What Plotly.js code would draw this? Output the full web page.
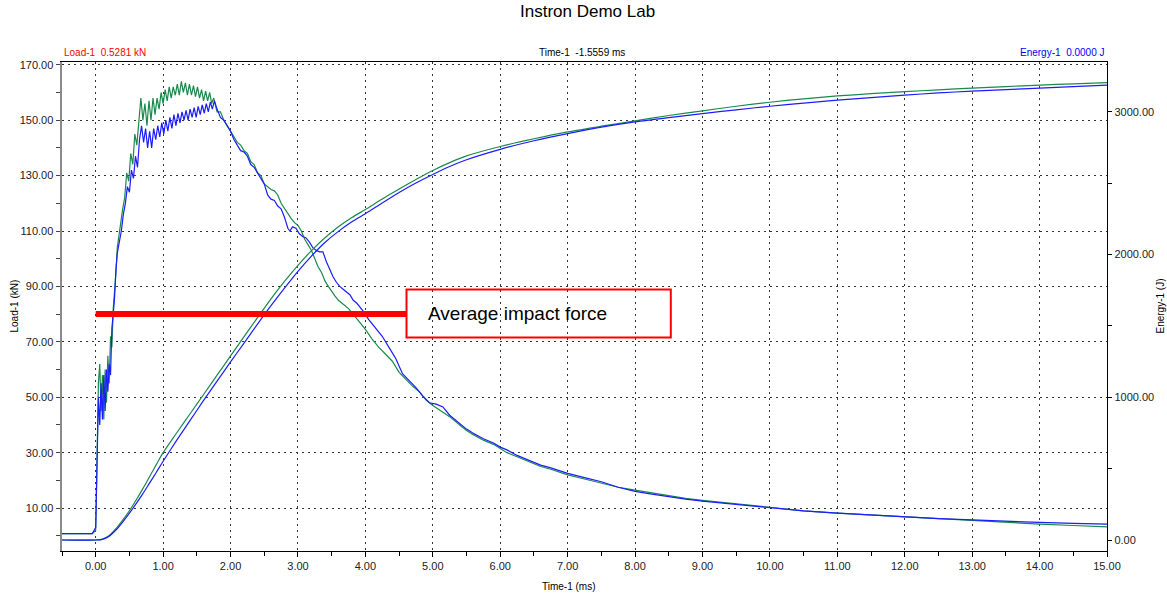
<!DOCTYPE html>
<html><head><meta charset="utf-8">
<script src="https://cdn.plot.ly/plotly-3.0.1.min.js"></script>
<style>html,body{margin:0;padding:0;background:#fff}#chart{width:1167px;height:596px}</style>
</head><body><div id="chart"></div>
<script>
// Load vs time, test run 1 (green)
const timeLoadGreen = [-0.5,-0.05,0.0,0.02,0.04,0.06,0.08,0.10,0.12,0.14,0.16,0.18,0.20,0.22,0.24,0.26,0.28,0.30,0.32,0.34,0.37,0.40,0.43,0.46,0.49,0.52,0.55,0.58,0.61,0.64,0.67,0.70,0.73,0.76,0.79,0.82,0.85,0.88,0.91,0.94,0.97,1.00,1.03,1.06,1.09,1.12,1.15,1.18,1.21,1.24,1.27,1.30,1.33,1.36,1.39,1.42,1.45,1.48,1.51,1.54,1.57,1.60,1.63,1.66,1.69,1.72,1.75,1.80,1.85,1.90,1.95,2.00,2.05,2.10,2.15,2.20,2.25,2.30,2.35,2.40,2.45,2.50,2.55,2.60,2.65,2.70,2.75,2.80,2.85,2.90,2.95,3.00,3.05,3.10,3.15,3.20,3.25,3.30,3.35,3.40,3.45,3.50,3.55,3.60,3.65,3.70,3.75,3.80,3.85,3.90,3.95,4.00,4.10,4.20,4.30,4.40,4.50,4.60,4.70,4.80,4.90,5.00,5.10,5.25,5.40,5.50,5.60,5.75,5.90,6.00,6.10,6.25,6.40,6.50,6.60,6.75,7.00,7.25,7.50,7.75,8.00,8.25,8.50,8.75,9.00,9.50,10.00,10.50,11.00,11.50,12.00,12.50,13.00,13.50,14.00,14.50,15.00];
const loadGreen = [0.8,0.8,2,30,55,62,45,58,42,60,48,65,55,72,68,82,88,95,104,108,112,118,122,131,128,138,134,145,141,150,158,150,156,148,157,150,158,152,158,154,160,156,161,157,162,158,162,159,163,159,164,160,163.5,159,163,159,162.5,158.5,162,158,161,157,160.5,157,160,156,158,153,153,150,148,146,144,142,141,139,138,135,134,131,130,127,126,125,124.5,123,120,118,116,114.5,113,112,110,107,105,103,100,97,95,92,90,88,86.5,85,84,83,82,80.5,79,77.5,76,74.5,71,68,65.5,63,59,56.5,54,52,49,47,45.5,43,40,38,36.5,34.5,33,31.5,30,28.5,27,26,25,24,22,20.5,19,17.5,16.5,15.5,14.5,13.5,12.8,11.5,10.2,9,8.2,7.5,6.8,6.1,5.5,4.8,4.2,3.7,3.2];

// Load vs time, test run 2 (blue)
const timeLoadBlue = [-0.5,-0.05,0.0,0.02,0.04,0.06,0.08,0.10,0.12,0.14,0.16,0.18,0.20,0.22,0.24,0.26,0.28,0.30,0.32,0.35,0.38,0.41,0.44,0.47,0.50,0.53,0.56,0.59,0.62,0.65,0.68,0.71,0.74,0.77,0.80,0.83,0.86,0.89,0.92,0.95,0.98,1.01,1.04,1.07,1.10,1.13,1.16,1.19,1.22,1.25,1.28,1.31,1.34,1.37,1.40,1.43,1.46,1.49,1.52,1.55,1.58,1.61,1.64,1.67,1.70,1.73,1.76,1.80,1.85,1.90,1.95,2.00,2.05,2.10,2.15,2.20,2.25,2.30,2.35,2.40,2.45,2.50,2.55,2.60,2.65,2.70,2.75,2.80,2.85,2.88,2.92,2.97,3.02,3.07,3.12,3.17,3.22,3.27,3.32,3.37,3.42,3.47,3.52,3.57,3.62,3.67,3.72,3.77,3.82,3.87,3.92,3.97,4.05,4.15,4.25,4.35,4.45,4.55,4.65,4.75,4.85,4.95,5.05,5.15,5.25,5.40,5.50,5.60,5.75,5.90,6.00,6.10,6.25,6.40,6.50,6.60,6.75,7.00,7.25,7.50,7.75,8.00,8.25,8.50,8.75,9.00,9.50,10.00,10.50,11.00,11.50,12.00,12.50,13.00,13.50,14.00,14.50,15.00];
const loadBlue = [0.8,0.8,3,25,50,40,55,42,58,45,60,52,62,58,75,80,86,96,102,106,110,116,120,126,124,132,129,137,133,143,148,142,147,140,146,140,147,143,148,144,149,145,150,146,151,147,152,148,152.5,149,153,150,153.5,150,154,151,154.5,151,155,152,155.5,152.5,156,153,156.5,154,157,154,151,150,148,146,143,141,139,138.5,137,134,133,131,129,127,123,121.5,121,119,118,115,111,110,111.5,111,109,108,107.5,106,104,103,102.5,102.5,99,96,93.5,91.5,90,89,88,87,85,84,82.5,81,78,75,72,68,64,58.5,56,53.5,50.5,48,47.5,46.5,43.5,40.5,38.5,37,35,33.5,32,31,29,27.5,26.5,25.5,24.5,22.5,21,19.5,17.5,16,15,14,13.2,12.5,11.3,10,9,8.2,7.5,6.8,6.2,5.7,5.2,4.8,4.5,4.2];

// Energy vs time (both runs share the time samples)
const timeEnergy = [-0.5,0.0,0.1,0.2,0.3,0.4,0.5,0.6,0.7,0.8,0.9,1.0,1.2,1.4,1.6,1.8,2.0,2.2,2.4,2.6,2.8,3.0,3.2,3.4,3.6,3.8,4.0,4.25,4.5,4.75,5.0,5.25,5.5,6.0,6.5,7.0,7.5,8.0,8.5,9.0,9.5,10.0,10.5,11.0,11.5,12.0,12.5,13.0,13.5,14.0,14.5,15.0];
const energyGreen = [0,0,6,32,80,140,205,280,360,445,530,612,750,885,1020,1155,1290,1425,1558,1690,1812,1925,2028,2118,2195,2260,2316,2390,2460,2527,2590,2645,2692,2758,2812,2860,2900,2937,2975,3008,3040,3068,3092,3112,3128,3142,3155,3167,3178,3188,3197,3205];
const energyBlue = [0,0,5,27,70,126,188,255,325,400,475,552,698,838,978,1113,1248,1380,1513,1642,1765,1883,1990,2085,2163,2230,2287,2362,2436,2502,2562,2618,2665,2738,2798,2848,2893,2930,2960,2988,3015,3040,3062,3083,3101,3118,3133,3146,3157,3167,3178,3188];

const headerLeft = "Load-1  0.5281 kN";
const headerMid = "Time-1  -1.5559 ms";
const headerRight = "Energy-1  0.0000 J";
const chartTitle = "Instron Demo Lab";
const noteText = "Average impact force";

const GREEN = "#1a8a4c", BLUE = "#1c1cff";
const F = "Liberation Sans, Arial, sans-serif";

const traces = [
  {x: timeLoadGreen, y: loadGreen, type: "scatter", mode: "lines", line: {color: GREEN, width: 1.2}, yaxis: "y", hoverinfo: "skip"},
  {x: timeEnergy, y: energyGreen, type: "scatter", mode: "lines", line: {color: GREEN, width: 1.2, shape: "spline", smoothing: 0.8}, yaxis: "y2", hoverinfo: "skip"},
  {x: timeLoadBlue, y: loadBlue, type: "scatter", mode: "lines", line: {color: BLUE, width: 1.2}, yaxis: "y", hoverinfo: "skip"},
  {x: timeEnergy, y: energyBlue, type: "scatter", mode: "lines", line: {color: BLUE, width: 1.2, shape: "spline", smoothing: 0.8}, yaxis: "y2", hoverinfo: "skip"}
];

const GRIDDASH = "2px,4px";

const layout = {
  width: 1167, height: 596,
  margin: {l: 62, r: 60, t: 62, b: 45},
  paper_bgcolor: "#fff", plot_bgcolor: "#fff",
  showlegend: false,
  font: {family: F, size: 11, color: "#222"},
  xaxis: {
    range: [-0.5, 15], tick0: 0, dtick: 1, tickformat: ".2f",
    ticks: "outside", ticklen: 5, tickcolor: "#000",
    showline: true, linecolor: "#000", linewidth: 1.2, mirror: true,
    showgrid: true, gridcolor: "#333", gridwidth: 1, griddash: GRIDDASH,
    zeroline: false,
    minor: {dtick: 0.5, ticks: "outside", ticklen: 4, tickcolor: "#000", showgrid: false},
    tickfont: {family: F, size: 11, color: "#222"}
  },
  yaxis: {
    range: [-5.5, 171], tick0: 10, dtick: 20, tickformat: ".2f",
    ticks: "outside", ticklen: 4, tickcolor: "#444",
    showline: true, linecolor: "#8a8a8a", linewidth: 2.5,
    showgrid: true, gridcolor: "#333", gridwidth: 1, griddash: GRIDDASH,
    zeroline: false,
    minor: {dtick: 10, tick0: 0, ticks: "outside", ticklen: 4, tickcolor: "#444", showgrid: false},
    tickfont: {family: F, size: 11, color: "#222"}
  },
  yaxis2: {
    overlaying: "y", side: "right",
    range: [-77, 3350], tick0: 0, dtick: 1000, tickformat: ".2f",
    ticks: "outside", ticklen: 4, tickcolor: "#000",
    showline: true, linecolor: "#000", linewidth: 1.2,
    showgrid: false, zeroline: false,
    minor: {dtick: 500, ticks: "outside", ticklen: 4, tickcolor: "#000", showgrid: false},
    tickfont: {family: F, size: 11, color: "#222"}
  },
  shapes: [
    {type: "line", xref: "x", yref: "y", x0: 0, x1: 4.61, y0: 80, y1: 80, line: {color: "#ff0000", width: 6}, layer: "above"},
    {type: "rect", xref: "x", yref: "y", x0: 4.61, x1: 8.53, y0: 71.6, y1: 88.9, line: {color: "#ff0000", width: 2}, fillcolor: "rgba(0,0,0,0)", layer: "above"}
  ],
  annotations: [
    {text: chartTitle, xref: "paper", yref: "paper", x: 0.503, y: 1, yshift: 51, xanchor: "center", yanchor: "middle", showarrow: false, font: {family: F, size: 17, color: "#000"}},
    {text: headerLeft, xref: "paper", yref: "paper", x: 0, y: 1, yshift: 10, xanchor: "left", yanchor: "middle", showarrow: false, font: {family: F, size: 10, color: "#ff0000"}},
    {text: headerMid, xref: "paper", yref: "paper", x: 0.498, y: 1, yshift: 10, xanchor: "center", yanchor: "middle", showarrow: false, font: {family: F, size: 10, color: "#000"}},
    {text: headerRight, xref: "paper", yref: "paper", x: 1, y: 1, yshift: 10, xanchor: "right", yanchor: "middle", showarrow: false, font: {family: F, size: 10, color: "#0000ff"}},
    {text: "Load-1 (kN)", xref: "paper", yref: "paper", x: 0, xshift: -48, y: 0.5, textangle: -90, xanchor: "center", yanchor: "middle", showarrow: false, font: {family: F, size: 10, color: "#000"}},
    {text: "Energy-1 (J)", xref: "paper", yref: "paper", x: 1, xshift: 53, y: 0.5, textangle: -90, xanchor: "center", yanchor: "middle", showarrow: false, font: {family: F, size: 10, color: "#000"}},
    {text: "Time-1 (ms)", xref: "paper", yref: "paper", x: 0.485, y: 0, yshift: -35, xanchor: "center", yanchor: "middle", showarrow: false, font: {family: F, size: 10, color: "#000"}},
    {text: noteText, xref: "x", yref: "y", x: 4.9, y: 80.3, xanchor: "left", yanchor: "middle", showarrow: false, font: {family: F, size: 19, color: "#000"}}
  ]
};

Plotly.newPlot("chart", traces, layout, {staticPlot: true, displayModeBar: false});
</script>
</body></html>
